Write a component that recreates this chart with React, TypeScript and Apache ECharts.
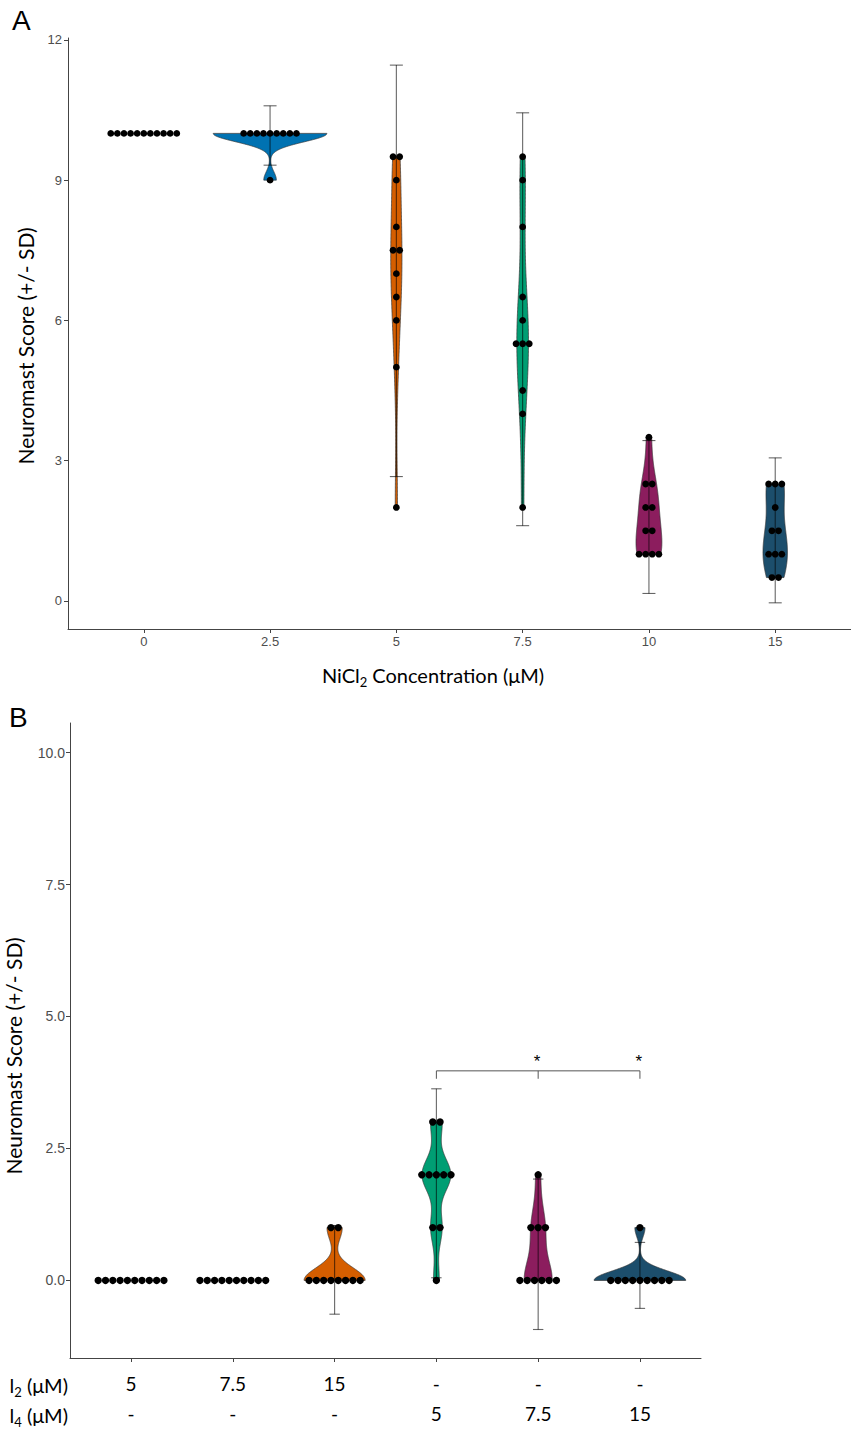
import React, { useEffect, useRef } from "react";
import * as echarts from "echarts";

// ---------- Panel A data ----------
const catsA = ["0", "2.5", "5", "7.5", "10", "15"];
const grpA0 = [10, 10, 10, 10, 10, 10, 10, 10, 10, 10, 10];
const grpA25 = [10, 10, 10, 10, 10, 10, 10, 10, 10, 9];
const grpA5 = [9.5, 9.5, 9, 8, 7.5, 7.5, 7, 6.5, 6, 5, 2];
const grpA75 = [9.5, 9, 8, 6.5, 6, 5.5, 5.5, 5.5, 4.5, 4, 2];
const grpA10 = [3.5, 2.5, 2.5, 2, 2, 1.5, 1.5, 1, 1, 1, 1];
const grpA15 = [2.5, 2.5, 2.5, 2, 1.5, 1.5, 1, 1, 1, 0.5, 0.5];
const errLowA = [null, 9.32, 2.66, 1.61, 0.16, -0.04];
const errHighA = [null, 10.59, 11.46, 10.44, 3.43, 3.06];
const ticksA = [0, 3, 6, 9, 12];

// ---------- Panel B data ----------
const rowB1 = ["5", "7.5", "15", "-", "-", "-"];
const rowB2 = ["-", "-", "-", "5", "7.5", "15"];
const grpB1 = [0, 0, 0, 0, 0, 0, 0, 0, 0, 0];
const grpB2 = [0, 0, 0, 0, 0, 0, 0, 0, 0, 0];
const grpB3 = [1, 1, 0, 0, 0, 0, 0, 0, 0, 0];
const grpB4 = [3, 3, 2, 2, 2, 2, 2, 1, 1, 0];
const grpB5 = [2, 1, 1, 1, 0, 0, 0, 0, 0, 0];
const grpB6 = [1, 0, 0, 0, 0, 0, 0, 0, 0, 0];
const errLowB = [null, null, -0.64, 0.05, -0.93, -0.53];
const errHighB = [null, null, 1.04, 3.63, 1.92, 0.72];
const ticksB = [0, 2.5, 5, 7.5, 10];
const bracketY = 3.97;
const bracketTickY = 3.82;
const starY = 4.2;
const bracketFrom = 3;
const bracketTo = [4, 5];

const BLUE = "#0072B2";
const ORANGE = "#D55E00";
const GREEN = "#009E73";
const MAGENTA = "#8C1D5E";
const NAVY = "#1C4E6C";
const colorsA = [null, BLUE, ORANGE, GREEN, MAGENTA, NAVY];
const colorsB = [null, null, ORANGE, GREEN, MAGENTA, NAVY];

const groupsA = [grpA0, grpA25, grpA5, grpA75, grpA10, grpA15];
const groupsB = [grpB1, grpB2, grpB3, grpB4, grpB5, grpB6];

const TITLE_FONT = "Lato, 'Open Sans', sans-serif";
const TICK_FONT = "'Liberation Sans', Arial, sans-serif";

function quantile7(sorted: number[], p: number) {
  const h = (sorted.length - 1) * p;
  const lo = Math.floor(h);
  const hi = Math.min(lo + 1, sorted.length - 1);
  return sorted[lo] + (h - lo) * (sorted[hi] - sorted[lo]);
}

function kde(vals: number[]): number[][] | null {
  const n = vals.length;
  const sorted = [...vals].sort((a, b) => a - b);
  const mn = sorted[0];
  const mx = sorted[n - 1];
  if (mx - mn <= 0) return null;
  const mean = vals.reduce((s, v) => s + v, 0) / n;
  const sd = Math.sqrt(vals.reduce((s, v) => s + (v - mean) ** 2, 0) / (n - 1));
  const iqr = quantile7(sorted, 0.75) - quantile7(sorted, 0.25);
  let lo = Math.min(sd, iqr / 1.34);
  if (!(lo > 0)) lo = sd || Math.abs(sorted[0]) || 1;
  const bw = 0.9 * lo * Math.pow(n, -0.2);
  const pts: number[][] = [];
  const N = 256;
  for (let i = 0; i < N; i++) {
    const y = mn + ((mx - mn) * i) / (N - 1);
    let d = 0;
    for (const v of vals) d += Math.exp(-0.5 * ((y - v) / bw) ** 2);
    d /= n * bw * Math.sqrt(2 * Math.PI);
    pts.push([y, d]);
  }
  return pts;
}

function bins(vals: number[]) {
  const m = new Map<number, number>();
  vals.forEach((v) => m.set(v, (m.get(v) || 0) + 1));
  const out: number[][] = [];
  m.forEach((cnt, v) => {
    for (let k = 0; k < cnt; k++) out.push([v, k, cnt]);
  });
  return out;
}

function panelSeries(
  groups: number[][],
  colors: (string | null)[],
  errLow: (number | null)[],
  errHigh: (number | null)[],
  axisIdx: number,
  dotSpacing: number,
  dotR: number,
  capHalf: number
) {
  const viol = groups.map((g) => kde(g));
  let maxD = 0;
  viol.forEach((p) => p && p.forEach((q) => (maxD = Math.max(maxD, q[1]))));
  const violinData = groups.map((_, i) => [i, 0]);
  const dotData: number[][] = [];
  groups.forEach((g, i) => bins(g).forEach((b) => dotData.push([i, b[0], b[1], b[2]])));
  const errData = groups.map((_, i) => [i, errLow[i] ?? 0, errHigh[i] ?? 0]);
  return [
    {
      type: "custom",
      xAxisIndex: axisIdx,
      yAxisIndex: axisIdx,
      data: violinData,
      z: 2,
      renderItem: (params: any, api: any) => {
        const i = params.dataIndex;
        const p = viol[i];
        const col = colors[i];
        if (!p || !col) return null;
        const right = p.map((q) => api.coord([i + (0.45 * q[1]) / maxD, q[0]]));
        const left = p.map((q) => api.coord([i - (0.45 * q[1]) / maxD, q[0]])).reverse();
        return {
          type: "polygon",
          shape: { points: right.concat(left) },
          style: { fill: col, stroke: "#333", lineWidth: 0.7 },
        };
      },
    },
    {
      type: "custom",
      xAxisIndex: axisIdx,
      yAxisIndex: axisIdx,
      data: errData,
      z: 3,
      renderItem: (params: any, api: any) => {
        const i = params.dataIndex;
        if (errLow[i] == null || errHigh[i] == null) return null;
        const top = api.coord([i, errHigh[i]]);
        const bot = api.coord([i, errLow[i]]);
        const st = { stroke: "rgba(0,0,0,0.6)", lineWidth: 1.1 };
        return {
          type: "group",
          children: [
            { type: "line", shape: { x1: top[0], y1: top[1], x2: bot[0], y2: bot[1] }, style: st },
            { type: "line", shape: { x1: top[0] - capHalf, y1: top[1], x2: top[0] + capHalf, y2: top[1] }, style: st },
            { type: "line", shape: { x1: bot[0] - capHalf, y1: bot[1], x2: bot[0] + capHalf, y2: bot[1] }, style: st },
          ],
        };
      },
    },
    {
      type: "custom",
      xAxisIndex: axisIdx,
      yAxisIndex: axisIdx,
      data: dotData,
      z: 4,
      renderItem: (params: any, api: any) => {
        const d = dotData[params.dataIndex];
        const c = api.coord([d[0], d[1]]);
        const x = c[0] + (d[2] - (d[3] - 1) / 2) * dotSpacing;
        return {
          type: "circle",
          shape: { cx: x, cy: c[1], r: dotR },
          style: { fill: "#000" },
        };
      },
    },
  ];
}

const idx6 = [0, 1, 2, 3, 4, 5];

function axisCommon() {
  return {
    axisLine: { show: true, onZero: false, lineStyle: { color: "#444", width: 1 } },
    splitLine: { show: false },
  };
}

const subRich = {
  n: { fontSize: 20, fontFamily: TITLE_FONT, fill: "#000", lineHeight: 22 },
  s: { fontSize: 13, fontFamily: TITLE_FONT, fill: "#000", lineHeight: 14, padding: [14, 0, 0, 0] },
};

export default function App() {
  const ref = useRef<HTMLDivElement>(null);
  useEffect(() => {
    document.body.style.margin = "0";
    const chart = echarts.init(ref.current!, null, { renderer: "svg" });
    const tickStyle = { color: "#444", width: 1 };
    const option: any = {
      animation: false,
      backgroundColor: "#fff",
      grid: [
        { left: 68, top: 38, width: 787, height: 591 },
        { left: 70, top: 723, width: 631, height: 635 },
      ],
      xAxis: [
        {
          type: "value",
          gridIndex: 0,
          min: -0.6,
          max: 5.6,
          ...axisCommon(),
          axisTick: { show: true, customValues: idx6, length: 4, lineStyle: tickStyle },
          axisLabel: {
            customValues: idx6,
            formatter: (v: number) => catsA[Math.round(v)],
            color: "#4D4D4D",
            fontSize: 13,
            fontFamily: TICK_FONT,
            margin: 6,
          },
        },
        {
          type: "value",
          gridIndex: 1,
          min: -0.6,
          max: 5.6,
          ...axisCommon(),
          axisTick: { show: true, customValues: idx6, length: 4, lineStyle: tickStyle },
          axisLabel: {
            customValues: idx6,
            formatter: (v: number) => rowB1[Math.round(v)] + "\n" + rowB2[Math.round(v)],
            color: "#000",
            fontSize: 19,
            lineHeight: 30,
            fontFamily: TITLE_FONT,
            margin: 10,
          },
        },
      ],
      yAxis: [
        {
          type: "value",
          gridIndex: 0,
          min: -0.6,
          max: 12.04,
          ...axisCommon(),
          axisTick: { show: true, customValues: ticksA, length: 4, lineStyle: tickStyle },
          axisLabel: {
            customValues: ticksA,
            formatter: (v: number) => String(v),
            color: "#4D4D4D",
            fontSize: 13,
            fontFamily: TICK_FONT,
            margin: 6,
          },
        },
        {
          type: "value",
          gridIndex: 1,
          min: -1.47,
          max: 10.56,
          ...axisCommon(),
          axisTick: { show: true, customValues: ticksB, length: 4, lineStyle: tickStyle },
          axisLabel: {
            customValues: ticksB,
            formatter: (v: number) => v.toFixed(1),
            color: "#4D4D4D",
            fontSize: 14,
            fontFamily: TICK_FONT,
            margin: 5,
          },
        },
      ],
      series: [
        ...panelSeries(groupsA, colorsA, errLowA, errHighA, 0, 6.6, 3.4, 6.5),
        ...panelSeries(groupsB, colorsB, errLowB, errHighB, 1, 7.3, 3.7, 5.2),
        {
          type: "custom",
          xAxisIndex: 1,
          yAxisIndex: 1,
          data: [[bracketFrom, bracketY]],
          z: 5,
          renderItem: (params: any, api: any) => {
            const a = api.coord([bracketFrom, bracketY]);
            const aT = api.coord([bracketFrom, bracketTickY]);
            const ends = bracketTo.map((t) => [api.coord([t, bracketY]), api.coord([t, bracketTickY]), api.coord([t, starY])]);
            const last = ends[ends.length - 1][0];
            const st = { stroke: "#555", lineWidth: 1 };
            const children: any[] = [
              { type: "line", shape: { x1: a[0], y1: a[1], x2: last[0], y2: last[1] }, style: st },
              { type: "line", shape: { x1: a[0], y1: a[1], x2: aT[0], y2: aT[1] }, style: st },
            ];
            ends.forEach((e) => {
              children.push({ type: "line", shape: { x1: e[0][0], y1: e[0][1], x2: e[1][0], y2: e[1][1] }, style: st });
              children.push({
                type: "text",
                x: e[2][0] - 1,
                y: e[2][1] + 3,
                style: { text: "*", fill: "#000", fontSize: 17, fontFamily: TICK_FONT, align: "center", verticalAlign: "middle" },
              });
            });
            return { type: "group", children };
          },
        },
      ],
      graphic: [
        { type: "text", x: 12, y: 6, style: { text: "A", fontSize: 28, fill: "#000", fontFamily: TICK_FONT } },
        { type: "text", x: 9, y: 703, style: { text: "B", fontSize: 28, fill: "#000", fontFamily: TICK_FONT } },
        {
          type: "text",
          x: 25,
          y: 346,
          rotation: Math.PI / 2,
          style: { text: "Neuromast Score (+/- SD)", fontSize: 21, fill: "#000", fontFamily: TITLE_FONT, align: "center", verticalAlign: "middle" },
        },
        {
          type: "text",
          x: 13,
          y: 1056,
          rotation: Math.PI / 2,
          style: { text: "Neuromast Score (+/- SD)", fontSize: 21, fill: "#000", fontFamily: TITLE_FONT, align: "center", verticalAlign: "middle" },
        },
        {
          type: "text",
          x: 433,
          y: 675,
          style: { text: "{n|NiCl}{s|2}{n| Concentration (μM)}", align: "center", verticalAlign: "middle", rich: subRich },
        },
        {
          type: "text",
          x: 68,
          y: 1385,
          style: { text: "{n|l}{s|2}{n| (μM)}", align: "right", verticalAlign: "middle", rich: subRich },
        },
        {
          type: "text",
          x: 68,
          y: 1415,
          style: { text: "{n|l}{s|4}{n| (μM)}", align: "right", verticalAlign: "middle", rich: subRich },
        },
      ],
    };
    chart.setOption(option);
    return () => chart.dispose();
  }, []);
  return <div ref={ref} style={{ width: 851, height: 1432 }} />;
}
